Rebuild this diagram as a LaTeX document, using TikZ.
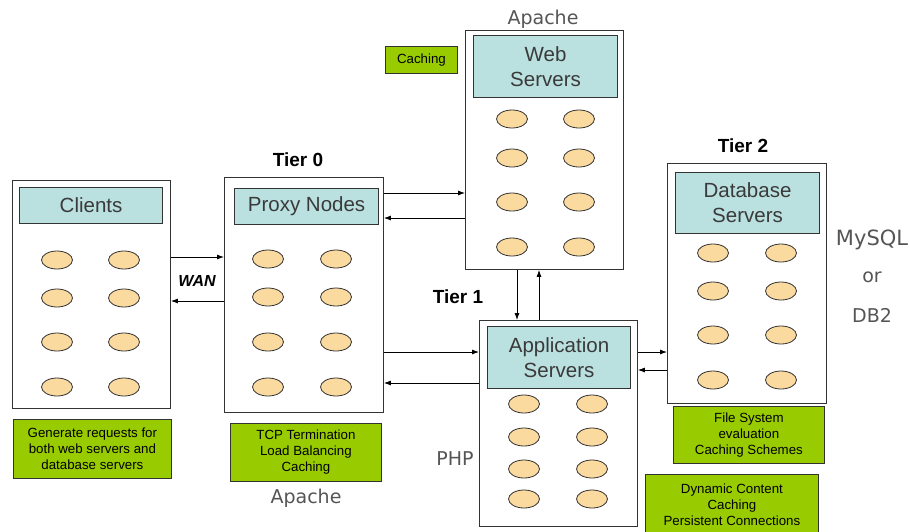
\documentclass[tikz,border=0pt]{standalone}
\usepackage{fontspec}
\setmainfont{Liberation Sans}
\newfontfamily\hand{DejaVu Sans}
\usetikzlibrary{arrows.meta,shapes.geometric}
\definecolor{hdrfill}{HTML}{BAE0E0}
\definecolor{ovalfill}{HTML}{FBDAA0}
\definecolor{notefill}{HTML}{99CC00}
\definecolor{boxline}{HTML}{333333}
\definecolor{hdrtext}{HTML}{3A3A3A}
\definecolor{handtext}{HTML}{555555}
\tikzset{
  tierbox/.style={draw=boxline, line width=0.9pt, fill=white, anchor=north west, inner sep=0pt},
  header/.style={draw=boxline, line width=1.1pt, fill=hdrfill, anchor=north west, inner sep=0pt,
     text=hdrtext, font=\fontsize{20.5}{25}\selectfont, align=center},
  oval/.style={draw=boxline, line width=0.8pt, fill=ovalfill, ellipse, minimum width=31pt, minimum height=18pt, inner sep=0pt},
  note/.style={draw=boxline, line width=0.8pt, fill=notefill, anchor=north west, inner sep=0pt,
     font=\fontsize{13.3}{16}\selectfont, align=center},
  tierlbl/.style={font=\bfseries\fontsize{19}{22}\selectfont},
  handlbl/.style={font=\hand\fontsize{19}{22}\selectfont, text=handtext},
  arr/.style={line width=0.8pt, -{Latex[length=7pt,width=5pt]}}
}
\begin{document}
\begin{tikzpicture}[x=1pt,y=-1pt]
\useasboundingbox (0,0) rectangle (910,531);

% tier boxes
\node[tierbox, minimum width=158pt, minimum height=228pt] (clients) at (12,180) {};
\node[tierbox, minimum width=159pt, minimum height=235pt] (proxy) at (224,177) {};
\node[tierbox, minimum width=158pt, minimum height=239pt] (web) at (465,30) {};
\node[tierbox, minimum width=158pt, minimum height=206pt] (app) at (479,320) {};
\node[tierbox, minimum width=159pt, minimum height=240pt] (db) at (667,163) {};

% headers
\node[header, minimum width=143pt, minimum height=36pt] (clientsh) at (19,187) {Clients};
\node[header, minimum width=144pt, minimum height=36pt] (proxyh) at (234,188) {Proxy Nodes};
\node[header, minimum width=144pt, minimum height=62pt] (webh) at (473,35) {Web\\Servers};
\node[header, minimum width=143pt, minimum height=62pt] (apph) at (487,326) {Application\\Servers};
\node[header, minimum width=144pt, minimum height=61pt] (dbh) at (675,172) {Database\\Servers};

% ovals
\foreach \y [count=\i] in {260,298,342,387}{
  \node[oval] (cl-\i-a) at (57,\y) {};
  \node[oval] (cl-\i-b) at (124,\y) {};
}
\foreach \y [count=\i] in {259,297,342,387}{
  \node[oval] (px-\i-a) at (268,\y) {};
  \node[oval] (px-\i-b) at (336,\y) {};
}
\foreach \y [count=\i] in {119,158,202,247}{
  \node[oval] (wb-\i-a) at (512,\y) {};
  \node[oval] (wb-\i-b) at (579,\y) {};
}
\foreach \y [count=\i] in {404,437,469,499}{
  \node[oval] (ap-\i-a) at (524,\y) {};
  \node[oval] (ap-\i-b) at (592,\y) {};
}
\foreach \y [count=\i] in {253,291,335,380}{
  \node[oval] (db-\i-a) at (713,\y) {};
  \node[oval] (db-\i-b) at (781,\y) {};
}

% notes
\node[note, minimum width=72pt, minimum height=27pt] (cachenote) at (385,46) {Caching};
\node[note, minimum width=158pt, minimum height=59pt] (clnote) at (13,419) {Generate requests for\\both web servers and\\database servers};
\node[note, minimum width=151pt, minimum height=58pt] (pxnote) at (230,423) {TCP Termination\\Load Balancing\\Caching};
\node[note, minimum width=151pt, minimum height=57pt] (dbnote) at (673,406) {File System\\evaluation\\Caching Schemes};
\node[note, minimum width=173pt, minimum height=60pt] (apnote) at (645,474) {Dynamic Content\\Caching\\Persistent Connections};

% labels
\node[tierlbl] (t0) at (298,160) {Tier 0};
\node[tierlbl] (t1) at (458,297) {Tier 1};
\node[tierlbl] (t2) at (743,146) {Tier 2};
\node[font=\bfseries\itshape\fontsize{16}{18}\selectfont] (wan) at (197,281) {WAN};
\node[handlbl] (apache1) at (543,19) {Apache};
\node[handlbl] (apache2) at (306,498) {Apache};
\node[handlbl] (php) at (455,459) {PHP};
\node[handlbl, font=\hand\fontsize{21}{22}\selectfont] (mysql) at (872,240) {MySQL};
\node[handlbl] (or) at (872,277) {or};
\node[handlbl] (db2) at (872,315) {DB2};

% connectors
\draw[arr] (clients.east |- 0,257) -- (proxy.west |- 0,257);
\draw[arr] (proxy.west |- 0,301) -- (clients.east |- 0,301);
\draw[arr] (proxy.east |- 0,193) -- (web.west |- 0,193);
\draw[arr] (web.west |- 0,218) -- (proxy.east |- 0,218);
\draw[arr] (proxy.east |- 0,352) -- (app.west |- 0,352);
\draw[arr] (app.west |- 0,383) -- (proxy.east |- 0,383);
\draw[arr] (web.south -| 517,0) -- (app.north -| 517,0);
\draw[arr] (app.north -| 539,0) -- (web.south -| 539,0);
\draw[arr] (app.east |- 0,352) -- (db.west |- 0,352);
\draw[arr] (db.west |- 0,370) -- (app.east |- 0,370);
\end{tikzpicture}
\end{document}
